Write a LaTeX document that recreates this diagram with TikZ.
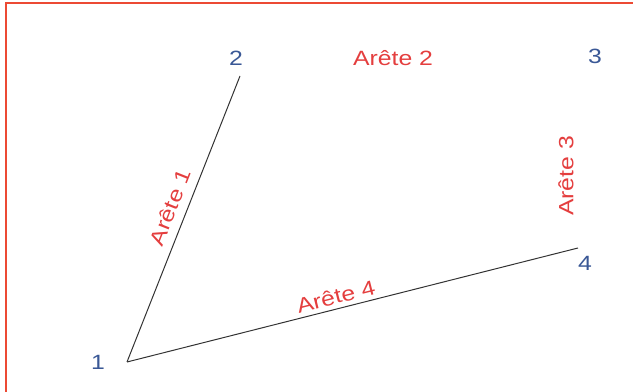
\documentclass[tikz,border=0pt]{standalone}
\usepackage{fontspec}
\setmainfont[FakeStretch=1.2]{Liberation Sans}
\usetikzlibrary{positioning}

\definecolor{edgered}{RGB}{228,62,62}
\definecolor{vtxblue}{RGB}{58,88,150}
\definecolor{framered}{RGB}{236,74,52}

\begin{document}
\begin{tikzpicture}[x=0.75pt,y=0.75pt,
  font=\fontsize{15.5}{18}\selectfont,
  vtx/.style={text=vtxblue},
  elbl/.style={text=edgered},
  edge/.style={line width=0.75pt,black!80},
  frame/.style={draw=framered,line width=2.2pt},
]

\useasboundingbox (0,0) rectangle (633,392);

% ------------------------------------------------------------------
% frame (top and left sides only)
% ------------------------------------------------------------------
\draw[frame] (633,389) -- (6,389) -- (6,0);

% ------------------------------------------------------------------
% vertices and their numbers
% ------------------------------------------------------------------
\coordinate (v1) at (127,30);
\coordinate (v2) at (240,316);
\coordinate (v4) at (578,144);

\node[vtx] (n1) at (98,30)   {1};
\node[vtx] (n2) at (236,334) {2};
\node[vtx] (n3) at (595,336) {3};
\node[vtx] (n4) at (585,129) {4};

% ------------------------------------------------------------------
% edges
% ------------------------------------------------------------------
\draw[edge] (v1) -- (v2)
  node[elbl,sloped,pos=0.52,above=3pt] (e1) {Arête 1};
\draw[edge] (v1) -- (v4)
  node[elbl,sloped,pos=0.47,above] (e4) {Arête 4};

\node[elbl] (e2) at (393,334) {Arête 2};
\node[elbl,rotate=90] (e3) at (566,216) {Arête 3};

\end{tikzpicture}
\end{document}
